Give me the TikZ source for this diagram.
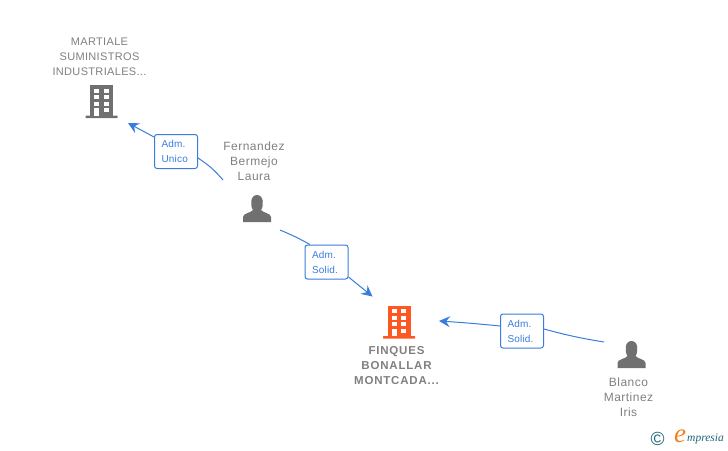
\documentclass[tikz,border=0pt]{standalone}
\usepackage{fontspec}
\setmainfont{Liberation Sans}
\newfontfamily\logofont{Liberation Serif}
\usetikzlibrary{arrows.meta,positioning,calc}
\definecolor{linkblue}{RGB}{58,124,222}
\definecolor{labelgray}{RGB}{128,128,128}
\definecolor{icongray}{RGB}{112,112,112}
\definecolor{firmorange}{RGB}{255,87,34}
\definecolor{logoteal}{RGB}{30,100,120}
\definecolor{logoorange}{RGB}{240,130,30}

\begin{document}
\begin{tikzpicture}[x=1pt, y=-1pt, >={Stealth[length=11pt, width=11pt, inset=4pt]}]

\tikzset{
  firm/.style={align=center, inner sep=0pt, text=labelgray, font={\fontsize{11}{15}\selectfont\addfontfeature{LetterSpace=3}}},
  mainfirm/.style={firm, font={\fontsize{11.5}{15}\selectfont\bfseries\addfontfeature{LetterSpace=7}}},
  person/.style={align=center, inner sep=0pt, text=labelgray, font={\fontsize{12}{15}\selectfont\addfontfeature{LetterSpace=4}}},
  role/.style={draw=linkblue, line width=1pt, rounded corners=2.5pt, fill=white, text=linkblue, align=left,
    text width=29pt, inner xsep=7pt, inner ysep=0pt, minimum height=34pt, font={\fontsize{10}{15}\selectfont\addfontfeature{LetterSpace=2}}},
  link/.style={draw=linkblue, line width=1pt},
  % icons are drawn around the middle of their foot
  buildingicon/.pic={
    \fill[#1] (-11.5,-32) rectangle (11.5,0);
    \fill[#1, rounded corners=0.5pt] (-16,-1.5) rectangle (16,1);
    \foreach \y in {-28.5,-22,-15.5} {
      \fill[white] (-7.5,\y) rectangle ++(5,4);
      \fill[white] (2,\y) rectangle ++(5,4);
    }
    \fill[white] (-7.5,-9) rectangle (-2.5,-1.5);
    \fill[white] (2,-9) rectangle (7,-5);
  },
  personicon/.pic={
    \fill[icongray] (-14,0) -- (-14,-5) .. controls (-14,-9) and (-6,-9) .. (-4,-12)
      .. controls (-7,-16) and (-7,-27) .. (0,-27) .. controls (7,-27) and (7,-16) .. (4,-12)
      .. controls (6,-9) and (14,-9) .. (14,-5) -- (14,0) -- cycle;
  }
}

\useasboundingbox (0,0) rectangle (728,450);

\node[firm] (martiale) at (99.5,56.5) {MARTIALE\\SUMINISTROS\\INDUSTRIALES...};
\pic at (101.5,117) {buildingicon=icongray};

\node[person] (fernandez) at (254,161) {Fernandez\\Bermejo\\Laura};
\pic at (257,222) {personicon};

\node[mainfirm] (finques) at (396.5,366) {FINQUES\\BONALLAR\\MONTCADA...};
\pic at (399,337.5) {buildingicon=firmorange};

\node[person] (blanco) at (628.5,397) {Blanco\\Martinez\\Iris};
\pic at (631.5,368) {personicon};

\node[role] (role_unico) at (176,151.5) {Adm.\\Unico};
\node[role] (role_solid1) at (326.5,262) {Adm.\\Solid.};
\node[role] (role_solid2) at (522,331) {Adm.\\Solid.};

% free ends of the connectors
\coordinate (fernandez_up) at (223,180);
\coordinate (martiale_in) at (128,123);
\coordinate (fernandez_down) at (280,230);
\coordinate (finques_in) at (372.5,296.5);
\coordinate (blanco_out) at (604,342);
\coordinate (finques_right) at (439,321);

\draw[link] (fernandez_up) to[bend right=8] (role_unico.east |- 0,158);
\draw[link,->] (role_unico.west |- 0,137) -- (martiale_in);

\draw[link] (fernandez_down) to[bend left=3] (role_solid1.north -| 310,0);
\draw[link,->] (role_solid1.east |- 0,277) -- (finques_in);

\draw[link] (blanco_out) to[bend left=3] (role_solid2.east |- 0,329);
\draw[link,->] (role_solid2.west |- 0,326) to[bend right=1] (finques_right);

\node[text=logoteal, inner sep=0pt, font={\fontsize{19}{19}\selectfont}] (logo_c) at (657.5,439) {©};
\node[text=logoorange, inner sep=0pt, font={\logofont\itshape\fontsize{27}{27}\selectfont}] (logo_e) at (680,436) {e};
\node[text=logoteal, inner sep=0pt, anchor=west, font={\logofont\itshape\fontsize{11.5}{12}\selectfont}] (logo_text) at (687,439) {mpresia};

\end{tikzpicture}
\end{document}
